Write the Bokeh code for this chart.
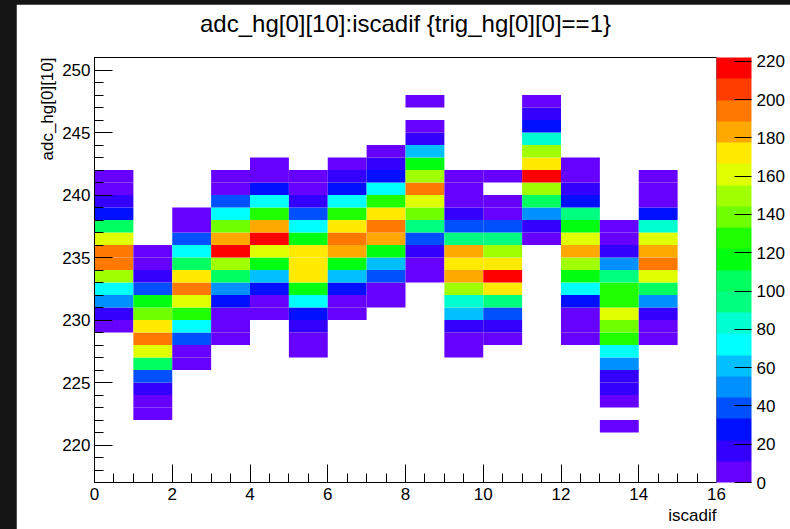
from bokeh.embed import file_html
from bokeh.layouts import column
from bokeh.models import (ColorBar, ColumnDataSource, FixedTicker, LinearAxis,
                          LinearColorMapper, Range1d, Title)
from bokeh.plotting import figure
from bokeh.resources import INLINE

# iscadif bins (width 1) and, for each, the lowest filled adc_hg[0][10] bin
iscadif_bins = [0, 1, 2, 3, 4, 5, 6, 7, 8, 9, 10, 11, 12, 13, 14]
adc_first_bin = [229, 222, 226, 228, 230, 227, 230, 231, 233, 227, 228, 236, 228, 221, 228]

# bin contents per iscadif column, from the lowest adc bin upwards (0 = empty bin)
counts_col0 = [6, 17, 49, 71, 149, 193, 196, 160, 104, 28, 15, 8, 4]
counts_col1 = [3, 7, 15, 38, 106, 162, 194, 174, 140, 118, 40, 17, 8, 4]
counts_col2 = [5, 9, 37, 73, 129, 163, 192, 171, 107, 70, 41, 8, 3]
counts_col3 = [4, 6, 10, 26, 52, 103, 148, 215, 184, 138, 74, 38, 9, 3]
counts_col4 = [7, 9, 29, 60, 118, 158, 222, 182, 127, 72, 27, 6, 2]
counts_col5 = [4, 10, 18, 26, 69, 114, 170, 176, 173, 116, 75, 40, 16, 8, 3]
counts_col6 = [8, 10, 25, 62, 119, 185, 197, 169, 131, 70, 29, 13, 4]
counts_col7 = [9, 7, 41, 58, 115, 181, 191, 173, 126, 73, 30, 17, 5]
counts_col8 = [10, 8, 19, 42, 93, 136, 158, 198, 152, 113, 60, 14, 5, 0, 2]
counts_col9 = [4, 9, 15, 58, 86, 147, 186, 169, 180, 95, 36, 20, 9, 7, 3]
counts_col10 = [6, 16, 39, 96, 171, 213, 175, 145, 92, 40, 9, 5, 0, 3]
counts_col11 = [10, 19, 53, 108, 151, 218, 174, 146, 85, 25, 14, 4]
counts_col12 = [4, 8, 10, 28, 71, 120, 152, 185, 163, 113, 92, 25, 16, 6, 3]
counts_col13 = [2, 0, 9, 17, 21, 48, 70, 126, 137, 159, 130, 125, 97, 53, 18, 10, 6]
counts_col14 = [7, 10, 16, 47, 104, 164, 194, 182, 157, 84, 27, 9, 6, 3]

counts_by_col = [counts_col0, counts_col1, counts_col2, counts_col3, counts_col4,
                 counts_col5, counts_col6, counts_col7, counts_col8, counts_col9,
                 counts_col10, counts_col11, counts_col12, counts_col13, counts_col14]

# axis ticks
x_ticks = [0, 2, 4, 6, 8, 10, 12, 14, 16]
y_ticks = [220, 225, 230, 235, 240, 245, 250]
z_ticks = [0, 20, 40, 60, 80, 100, 120, 140, 160, 180, 200, 220]

# 20-level rainbow palette (low -> high)
palette = ["#6600ff", "#3300ff", "#0010ff", "#0050ff", "#0090ff",
           "#00c0ff", "#00ffff", "#00ffd0", "#00ff80", "#00ff60",
           "#00ff10", "#20ff00", "#70ff00", "#a0ff00", "#e0ff00",
           "#ffea00", "#ffa800", "#ff7800", "#ff3c00", "#ff0000"]

# flatten the histogram into cells (empty bins are not drawn)
left, right, bottom, top, value = [], [], [], [], []
for xb, y0, counts in zip(iscadif_bins, adc_first_bin, counts_by_col):
    for i, c in enumerate(counts):
        if c <= 0:
            continue
        left.append(xb)
        right.append(xb + 1)
        bottom.append(y0 + i)
        top.append(y0 + i + 1)
        value.append(c)

src = ColumnDataSource(dict(left=left, right=right, bottom=bottom, top=top, value=value))
zmax = max(value)
mapper = LinearColorMapper(palette=palette, low=0, high=zmax)

FONT = "Liberation Sans"

p = figure(width=774, height=525, output_backend="svg", toolbar_location=None,
           title=None,
           x_range=Range1d(0, 16), y_range=Range1d(217, 251),
           min_border_left=78, min_border_right=74, min_border_top=53, min_border_bottom=47,
           background_fill_color="white", border_fill_color="white")
p.margin = (4, 0, 0, 16)

p.quad(left="left", right="right", bottom="bottom", top="top", source=src,
       fill_color={"field": "value", "transform": mapper}, line_color=None)

x_axis = p.below[0]
y_axis = p.left[0]

# invisible strip between the frame and the title (one hidden tick keeps its height)
gap = LinearAxis(ticker=FixedTicker(ticks=[8]), axis_line_color=None,
                 major_tick_in=0, major_tick_out=18, minor_tick_in=0, minor_tick_out=0,
                 major_label_standoff=0, major_label_text_font_size="0px",
                 major_label_text_color=None, major_label_overrides={8: ""},
                 major_tick_line_color=None, minor_tick_line_color=None)
p.add_layout(gap, "above")

p.add_layout(Title(text="adc_hg[0][10]:iscadif {trig_hg[0][0]==1}", align="center",
                   text_font=FONT, text_font_size="24px", text_font_style="normal",
                   text_color="black", standoff=6), "above")

p.xgrid.visible = False
p.ygrid.visible = False
p.outline_line_color = "black"
p.outline_line_width = 1

minor_x = [v / 2 for v in range(0, 33) if v % 4 != 0]
minor_y = [v for v in range(217, 252) if v % 5 != 0]
x_axis.ticker = FixedTicker(ticks=x_ticks, minor_ticks=minor_x)
y_axis.ticker = FixedTicker(ticks=y_ticks, minor_ticks=minor_y)

for ax in (x_axis, y_axis):
    ax.major_tick_in = 18
    ax.major_tick_out = 0
    ax.minor_tick_in = 9
    ax.minor_tick_out = 0
    ax.axis_line_color = "black"
    ax.major_tick_line_color = "black"
    ax.minor_tick_line_color = "black"
    ax.major_label_text_font = FONT
    ax.major_label_text_font_size = "17px"
    ax.major_label_text_color = "black"
x_axis.major_label_standoff = 5
y_axis.major_label_standoff = 4

# axis titles, placed at the far end of each axis
p.add_layout(Title(text="adc_hg[0][10]", align="right", text_font=FONT,
                   text_font_size="17px", text_font_style="normal",
                   text_color="black", standoff=6), "left")
p.add_layout(Title(text="iscadif", align="right", text_font=FONT,
                   text_font_size="17px", text_font_style="normal",
                   text_color="black", standoff=3), "below")

cb = ColorBar(color_mapper=mapper, ticker=FixedTicker(ticks=z_ticks),
              width=35, height=425, padding=0, margin=4, label_standoff=5,
              major_tick_in=17, major_tick_out=0, major_tick_line_color="black",
              minor_tick_line_color=None, bar_line_color=None,
              major_label_text_font=FONT, major_label_text_font_size="17px",
              major_label_text_color="black", background_fill_color="white")
p.add_layout(cb, "right")

root = column(p, styles={"background-color": "#141414"})

with open("out.html", "w") as f:
    f.write(file_html(root, INLINE))
